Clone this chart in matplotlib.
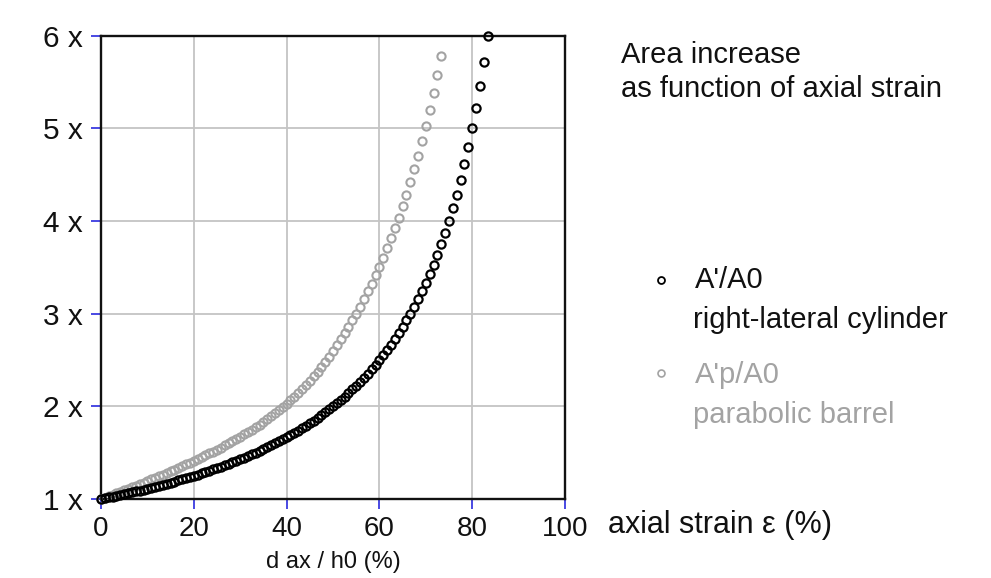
import matplotlib
matplotlib.use("Agg")
import matplotlib.pyplot as plt

plt.rcParams['font.family'] = ['Liberation Sans', 'DejaVu Sans']

# axial strain (%) - samples used for both series
strain = [0.0, 0.83, 1.67, 2.5, 3.33, 4.17, 5.0, 5.83, 6.67, 7.5, 8.33, 9.17,
          10.0, 10.83, 11.67, 12.5, 13.33, 14.17, 15.0, 15.83, 16.67, 17.5, 18.33, 19.17,
          20.0, 20.83, 21.67, 22.5, 23.33, 24.17, 25.0, 25.83, 26.67, 27.5, 28.33, 29.17,
          30.0, 30.83, 31.67, 32.5, 33.33, 34.17, 35.0, 35.83, 36.67, 37.5, 38.33, 39.17,
          40.0, 40.83, 41.67, 42.5, 43.33, 44.17, 45.0, 45.83, 46.67, 47.5, 48.33, 49.17,
          50.0, 50.83, 51.67, 52.5, 53.33, 54.17, 55.0, 55.83, 56.67, 57.5, 58.33, 59.17,
          60.0, 60.83, 61.67, 62.5, 63.33, 64.17, 65.0, 65.83, 66.67, 67.5, 68.33, 69.17,
          70.0, 70.83, 71.67, 72.5, 73.33, 74.17, 75.0, 75.83, 76.67, 77.5, 78.33, 79.17,
          80.0, 80.83, 81.67, 82.5, 83.33]

# A'/A0, right-lateral cylinder
area_cyl = [1.000, 1.008, 1.017, 1.026, 1.034, 1.043, 1.053, 1.062, 1.071, 1.081, 1.091, 1.101,
            1.111, 1.121, 1.132, 1.143, 1.154, 1.165, 1.176, 1.188, 1.200, 1.212, 1.224, 1.237,
            1.250, 1.263, 1.277, 1.290, 1.304, 1.319, 1.333, 1.348, 1.364, 1.379, 1.395, 1.412,
            1.429, 1.446, 1.463, 1.481, 1.500, 1.519, 1.538, 1.558, 1.579, 1.600, 1.622, 1.644,
            1.667, 1.690, 1.714, 1.739, 1.765, 1.791, 1.818, 1.846, 1.875, 1.905, 1.935, 1.967,
            2.000, 2.034, 2.069, 2.105, 2.143, 2.182, 2.222, 2.264, 2.308, 2.353, 2.400, 2.449,
            2.500, 2.553, 2.609, 2.667, 2.727, 2.791, 2.857, 2.927, 3.000, 3.077, 3.158, 3.243,
            3.333, 3.429, 3.529, 3.636, 3.750, 3.871, 4.000, 4.138, 4.286, 4.444, 4.615, 4.800,
            5.000, 5.217, 5.455, 5.714, 6.000]

# A'p/A0, parabolic barrel
area_bar = [1.000, 1.015, 1.031, 1.047, 1.062, 1.078, 1.095, 1.111, 1.126, 1.143, 1.160, 1.177,
            1.194, 1.211, 1.228, 1.246, 1.264, 1.282, 1.299, 1.318, 1.336, 1.354, 1.373, 1.393,
            1.413, 1.431, 1.452, 1.471, 1.491, 1.512, 1.533, 1.555, 1.578, 1.600, 1.623, 1.647,
            1.672, 1.697, 1.722, 1.748, 1.775, 1.803, 1.830, 1.861, 1.892, 1.924, 1.957, 1.991,
            2.025, 2.063, 2.103, 2.143, 2.186, 2.228, 2.273, 2.322, 2.374, 2.427, 2.481, 2.537,
            2.596, 2.658, 2.722, 2.788, 2.857, 2.928, 3.001, 3.077, 3.157, 3.240, 3.325, 3.415,
            3.508, 3.604, 3.706, 3.812, 3.922, 4.038, 4.158, 4.286, 4.419, 4.559, 4.707, 4.862,
            5.027, 5.201, 5.383, 5.579, 5.786]

x_ticks = [0, 20, 40, 60, 80, 100]
y_ticks = [1, 2, 3, 4, 5, 6]
y_labels = ["1 x", "2 x", "3 x", "4 x", "5 x", "6 x"]

black = "#000000"
grey = "#a3a3a3"
tick_blue = "#3a3ae0"

fig = plt.figure(figsize=(9.91, 5.78), dpi=100)
ax = fig.add_axes([0.1019, 0.1367, 0.4682, 0.8015])

ax.plot(strain[:len(area_bar)], area_bar, linestyle="none", marker="o", ms=5.9,
        mfc="none", mec=grey, mew=1.5, clip_on=False, zorder=3)
ax.plot(strain, area_cyl, linestyle="none", marker="o", ms=5.9,
        mfc="none", mec=black, mew=1.6, clip_on=False, zorder=4)

ax.set_xlim(0, 100)
ax.set_ylim(1, 6)
ax.set_xticks(x_ticks)
ax.set_yticks(y_ticks)
ax.set_yticklabels(y_labels)
ax.tick_params(axis="both", direction="out", length=7, width=1.3, color=tick_blue,
               labelcolor="#111111")
ax.tick_params(axis="x", labelsize=20, pad=5)
ax.tick_params(axis="y", labelsize=21.5, pad=6)

ax.grid(True, color="#c4c4c4", linewidth=1.3)
ax.set_axisbelow(True)
for s in ax.spines.values():
    s.set_linewidth(1.7)
    s.set_color("#111111")

ax.set_xlabel("d ax / h0 (%)", fontsize=17, color="#111111", labelpad=7)

fig.text(0.6135, 0.092, "axial strain \u03b5 (%)", fontsize=22, color="#111111",
         va="center", ha="left")
fig.text(0.627, 0.905, "Area increase", fontsize=21, color="#111111", va="center")
fig.text(0.627, 0.846, "as function of axial strain", fontsize=21, color="#111111",
         va="center")

fig.text(0.701, 0.515, "A'/A0", fontsize=21, color="#111111", va="center")
fig.text(0.699, 0.446, "right-lateral cylinder", fontsize=21, color="#111111",
         va="center")
fig.text(0.701, 0.351, "A'p/A0", fontsize=21, color=grey, va="center")
fig.text(0.699, 0.282, "parabolic barrel", fontsize=21, color=grey, va="center")

fig.lines.append(plt.Line2D([0.6675], [0.516], transform=fig.transFigure, marker="o",
                            ms=5, mfc="none", mec=black, mew=1.3, linestyle="none"))
fig.lines.append(plt.Line2D([0.6675], [0.354], transform=fig.transFigure, marker="o",
                            ms=5, mfc="none", mec=grey, mew=1.2, linestyle="none"))

fig.savefig("out.png", dpi=100)
